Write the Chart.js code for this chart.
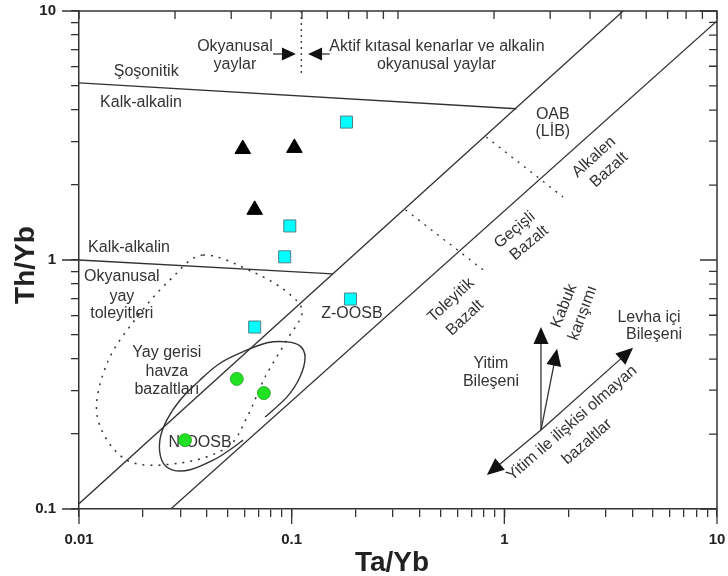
<!DOCTYPE html>
<html>
<head>
<meta charset="utf-8">
<script src="https://cdn.jsdelivr.net/npm/chart.js@4.4.1/dist/chart.umd.min.js"></script>
<style>
  html, body { margin: 0; padding: 0; background: #fff; }
</style>
</head>
<body>
<canvas id="chart" width="728" height="576"></canvas>
<script>
// örnek verileri (Ta/Yb, Th/Yb)
const squareTa = [0.181, 0.098, 0.0927, 0.189, 0.067];
const squareTh = [3.58, 1.37, 1.03, 0.697, 0.538];
const triangleTa = [0.0589, 0.103, 0.067];
const triangleTh = [2.79, 2.82, 1.59];
const circleTa = [0.0552, 0.074, 0.0315];
const circleTh = [0.333, 0.292, 0.189];

// eksen işaretleri
const xMajor = [0.01, 0.1, 1, 10];
const yMajor = [0.1, 1, 10];
const topMajor = [0.1, 1, 10];

// sınır çizgileri [Ta/Yb, Th/Yb]
const shoshoniticLine = [[0.01, 5.14], [1.14, 4.05]];
const calcAlkalineLine = [[0.01, 1.0], [0.156, 0.879]];
const upperDiagonal = [[0.01, 0.105], [3.62, 10]];
const lowerDiagonal = [[0.027, 0.1], [10, 9.12]];
const upperDotted = [[0.822, 3.12], [1.89, 1.79]];
const lowerDotted = [[0.343, 1.59], [0.796, 0.912]];
const arcDivider = [[0.111, 10], [0.111, 5.53]];

// alanlar
const backArcField = [[0.0383, 1.047], [0.0658, 0.895], [0.0951, 0.743], [0.112, 0.618], [0.0951, 0.478],
  [0.075, 0.339], [0.0617, 0.234], [0.0497, 0.177], [0.0299, 0.153], [0.0168, 0.157], [0.0122, 0.234],
  [0.01355, 0.385], [0.01875, 0.59], [0.0268, 0.832]];
const morbField = [[0.075, 0.234], [0.0951, 0.282], [0.1094, 0.339], [0.1156, 0.407], [0.1094, 0.452],
  [0.0951, 0.469], [0.0766, 0.465], [0.059, 0.428], [0.046, 0.385], [0.0371, 0.33], [0.0299, 0.274],
  [0.0259, 0.228], [0.024, 0.189], [0.0245, 0.157], [0.0274, 0.1437], [0.0333, 0.1437], [0.0427, 0.157],
  [0.0513, 0.173], [0.059, 0.189]];

// oklar [başlangıç, uç]
const arrows = [
  [[1.487, 0.2075], [0.828, 0.137]],
  [[1.487, 0.2075], [4.03, 0.444]],
  [[1.487, 0.2075], [1.487, 0.538]],
  [[1.487, 0.2075], [1.77, 0.44]],
  [[0.0817, 6.72], [0.1047, 6.72]],
  [[0.151, 6.72], [0.1194, 6.72]]
];

// yazılar [metin, Ta/Yb, Th/Yb, açı]
const notes = [
  ['Okyanusal', 0.0541, 7.17, 0],
  ['yaylar', 0.0541, 6.12, 0],
  ['Aktif kıtasal kenarlar ve alkalin', 0.482, 7.17, 0],
  ['okyanusal yaylar', 0.48, 6.12, 0],
  ['Şoşonitik', 0.0207, 5.69, 0],
  ['Kalk-alkalin', 0.01956, 4.27, 0],
  ['Kalk-alkalin', 0.01718, 1.117, 0],
  ['Okyanusal', 0.0159, 0.855, 0],
  ['yay', 0.0159, 0.716, 0],
  ['toleyitleri', 0.0159, 0.607, 0],
  ['Yay gerisi', 0.0259, 0.424, 0],
  ['havza', 0.0259, 0.355, 0],
  ['bazaltları', 0.0259, 0.301, 0],
  ['N-OOSB', 0.0371, 0.184, 0],
  ['Z-OOSB', 0.192, 0.612, 0],
  ['OAB', 1.69, 3.82, 0],
  ['(LİB)', 1.69, 3.27, 0],
  ['Alkalen', 2.64, 2.59, -42],
  ['Bazalt', 3.11, 2.30, -42],
  ['Geçişli', 1.12, 1.32, -40],
  ['Bazalt', 1.31, 1.17, -40],
  ['Toleyitik', 0.561, 0.69, -43],
  ['Bazalt', 0.653, 0.585, -43],
  ['Kabuk', 1.91, 0.653, -68],
  ['karışımı', 2.34, 0.612, -70],
  ['Yitim', 0.865, 0.382, 0],
  ['Bileşeni', 0.865, 0.324, 0],
  ['Levha içi', 4.79, 0.585, 0],
  ['Bileşeni', 5.06, 0.5, 0],
  ['Yitim ile ilişkisi olmayan', 2.08, 0.221, -41],
  ['bazaltlar', 2.45, 0.186, -41]
];

const INK = '#333';
const FONT = '"Liberation Sans", Arial, sans-serif';

function decadeTicks(min, max) {
  const out = [];
  for (let e = Math.log10(min); e < Math.log10(max); e++) {
    for (let m = 1; m < 10; m++) out.push(+(m * Math.pow(10, e)).toPrecision(3));
  }
  out.push(max);
  return out;
}
const isMajor = v => Math.abs(Math.log10(v) - Math.round(Math.log10(v))) < 1e-6;

const toPts = arr => arr.map(([x, y]) => ({ x, y }));
const lineSet = (arr, dash) => ({
  type: 'line', data: toPts(arr), showLine: true, borderColor: INK, borderWidth: 1.3,
  borderDash: dash || [], pointRadius: 0, fill: false, tension: 0, order: 5
});

function smoothPath(ctx, pts, closed) {
  const n = pts.length;
  ctx.moveTo(pts[0].x, pts[0].y);
  const segs = closed ? n : n - 1;
  for (let i = 0; i < segs; i++) {
    const p0 = pts[closed ? (i - 1 + n) % n : Math.max(i - 1, 0)];
    const p1 = pts[i];
    const p2 = pts[(i + 1) % n];
    const p3 = pts[closed ? (i + 2) % n : Math.min(i + 2, n - 1)];
    ctx.bezierCurveTo(p1.x + (p2.x - p0.x) / 6, p1.y + (p2.y - p0.y) / 6,
      p2.x - (p3.x - p1.x) / 6, p2.y - (p3.y - p1.y) / 6, p2.x, p2.y);
  }
}

// eksenlerin etiket taşmasını sıfırla, çizim alanı sabit kalsın
const noOverflow = s => { s.paddingTop = 0; s.paddingBottom = 0; s.paddingLeft = 0; s.paddingRight = 0; };

const diagramPlugin = {
  id: 'diagram',
  beforeDatasetsDraw(chart) {
    const { ctx, scales: { x, y } } = chart;
    const px = ([a, b]) => ({ x: x.getPixelForValue(a), y: y.getPixelForValue(b) });

    ctx.save();
    // yazılar
    ctx.fillStyle = INK;
    ctx.font = '16px ' + FONT;
    ctx.textAlign = 'center';
    ctx.textBaseline = 'middle';
    notes.forEach(([t, a, b, ang]) => {
      const p = px([a, b]);
      ctx.save();
      ctx.translate(p.x, p.y);
      ctx.rotate(ang * Math.PI / 180);
      ctx.fillText(t, 0, 0);
      ctx.restore();
    });

    // alanlar
    ctx.strokeStyle = INK;
    ctx.lineWidth = 1.5;
    ctx.setLineDash([2, 6]);
    ctx.beginPath();
    smoothPath(ctx, backArcField.map(px), true);
    ctx.stroke();
    ctx.setLineDash([]);
    ctx.lineWidth = 1.4;
    ctx.beginPath();
    smoothPath(ctx, morbField.map(px), false);
    ctx.stroke();

    // oklar
    ctx.fillStyle = '#111';
    ctx.lineWidth = 1.3;
    arrows.forEach(([from, to], i) => {
      const a = px(from), b = px(to);
      const ang = Math.atan2(b.y - a.y, b.x - a.x);
      const big = i < 4;
      const L = big ? 17 : 14, W = big ? 7.5 : 6.5;
      ctx.beginPath();
      ctx.moveTo(a.x, a.y);
      ctx.lineTo(b.x - Math.cos(ang) * L * 0.8, b.y - Math.sin(ang) * L * 0.8);
      ctx.stroke();
      ctx.beginPath();
      ctx.moveTo(b.x, b.y);
      ctx.lineTo(b.x - Math.cos(ang) * L - Math.sin(ang) * W, b.y - Math.sin(ang) * L + Math.cos(ang) * W);
      ctx.lineTo(b.x - Math.cos(ang) * L + Math.sin(ang) * W, b.y - Math.sin(ang) * L - Math.cos(ang) * W);
      ctx.closePath();
      ctx.fill();
    });
    ctx.restore();
  },
  afterDraw(chart) {
    const { ctx, chartArea: ca, scales: { x, y, xTop } } = chart;
    ctx.save();
    ctx.strokeStyle = INK;
    ctx.lineWidth = 1.5;
    // çerçeve (üst ve sağ)
    ctx.beginPath();
    ctx.moveTo(ca.left, ca.top);
    ctx.lineTo(ca.right, ca.top);
    ctx.lineTo(ca.right, ca.bottom);
    ctx.stroke();

    ctx.lineWidth = 1.3;
    ctx.beginPath();
    // sol ve alt ana işaretler daha uzun
    yMajor.forEach(v => { const p = y.getPixelForValue(v); ctx.moveTo(ca.left - 17, p); ctx.lineTo(ca.left, p); });
    xMajor.forEach(v => { const p = x.getPixelForValue(v); ctx.moveTo(p, ca.bottom); ctx.lineTo(p, ca.bottom + 15); });
    // sağ eksen içe doğru
    decadeTicks(0.1, 10).forEach(v => {
      const p = y.getPixelForValue(v);
      ctx.moveTo(ca.right, p); ctx.lineTo(ca.right - (isMajor(v) ? 17 : 8), p);
    });
    // üst eksen içe doğru (farklı ölçek)
    decadeTicks(0.1, 10).forEach(v => {
      const p = xTop.getPixelForValue(v);
      ctx.moveTo(p, ca.top); ctx.lineTo(p, ca.top + 8);
    });
    ctx.stroke();

    // eksen başlıkları
    ctx.fillStyle = '#222';
    ctx.font = 'bold 28px ' + FONT;
    ctx.textAlign = 'center';
    ctx.textBaseline = 'middle';
    ctx.fillText('Ta/Yb', (ca.left + ca.right) / 2 - 6, 563);
    ctx.translate(26, (ca.top + ca.bottom) / 2 + 5);
    ctx.rotate(-Math.PI / 2);
    ctx.fillText('Th/Yb', 0, 0);
    ctx.restore();
  }
};

const tickFont = { family: FONT, size: 15, weight: 'bold' };

new Chart(document.getElementById('chart'), {
  type: 'scatter',
  data: {
    datasets: [
      {
        data: squareTa.map((v, i) => ({ x: v, y: squareTh[i] })),
        pointStyle: 'rect', pointRadius: 8.5, backgroundColor: '#00ffff',
        borderColor: '#4f8088', borderWidth: 1, order: 1
      },
      {
        data: triangleTa.map((v, i) => ({ x: v, y: triangleTh[i] })),
        pointStyle: 'triangle', pointRadius: 9, backgroundColor: '#000',
        borderColor: '#000', borderWidth: 1, order: 1
      },
      {
        data: circleTa.map((v, i) => ({ x: v, y: circleTh[i] })),
        pointStyle: 'circle', pointRadius: 6.5, backgroundColor: '#22e022',
        borderColor: '#1ca01c', borderWidth: 0.8, order: 1
      },
      lineSet(shoshoniticLine),
      lineSet(calcAlkalineLine),
      lineSet(upperDiagonal),
      lineSet(lowerDiagonal),
      lineSet(upperDotted, [2, 6]),
      lineSet(lowerDotted, [2, 6]),
      lineSet(arcDivider, [2, 4])
    ]
  },
  options: {
    responsive: false,
    animation: false,
    devicePixelRatio: 1,
    layout: { autoPadding: false, padding: { top: 11, right: 11, left: 0, bottom: 0 } },
    plugins: { legend: { display: false }, tooltip: { enabled: false } },
    scales: {
      x: {
        type: 'logarithmic', position: 'bottom', min: 0.01, max: 10,
        afterBuildTicks: s => { s.ticks = decadeTicks(0.01, 10).map(v => ({ value: v })); },
        afterFit: s => { s.height = 67; noOverflow(s); },
        grid: { drawOnChartArea: false, drawTicks: true, tickLength: 8, color: INK, lineWidth: 1.3 },
        border: { display: true, color: INK, width: 1.5 },
        ticks: {
          autoSkip: false, maxRotation: 0, padding: 14, color: '#222', font: tickFont,
          callback: v => (isMajor(v) ? String(v) : '')
        }
      },
      xTop: {
        type: 'logarithmic', position: 'top', min: 0.1, max: 10, display: false
      },
      y: {
        type: 'logarithmic', position: 'left', min: 0.1, max: 10,
        afterBuildTicks: s => { s.ticks = decadeTicks(0.1, 10).map(v => ({ value: v })); },
        afterFit: s => { s.width = 79; noOverflow(s); },
        grid: { drawOnChartArea: false, drawTicks: true, tickLength: 8, color: INK, lineWidth: 1.3 },
        border: { display: true, color: INK, width: 1.5 },
        ticks: {
          autoSkip: false, padding: 15, color: '#222', font: tickFont,
          callback: v => (isMajor(v) ? String(v) : '')
        }
      }
    }
  },
  plugins: [diagramPlugin]
});
</script>
</body>
</html>
